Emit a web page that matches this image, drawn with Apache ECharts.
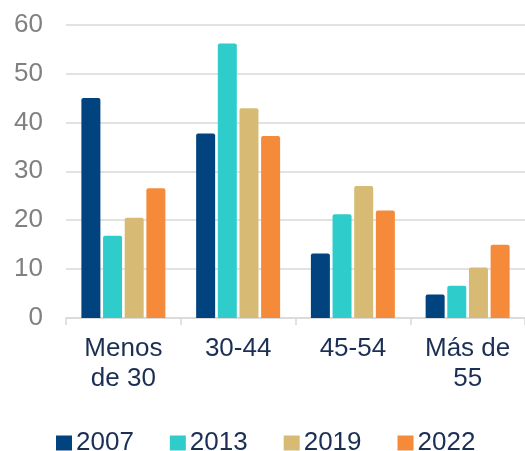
<!DOCTYPE html>
<html>
<head>
<meta charset="utf-8">
<script src="https://cdn.jsdelivr.net/npm/echarts@6/dist/echarts.min.js"></script>
<style>
html,body{margin:0;padding:0;background:#fff;}
#chart{width:525px;height:451px;}
</style>
</head>
<body>
<div id="chart"></div>
<script>
var categories = ['Menos\nde 30', '30-44', '45-54', 'Más de\n55'];
var seriesNames = ['2007', '2013', '2019', '2022'];
var values2007 = [45.0, 37.7, 13.2, 4.8];
var values2013 = [16.8, 56.1, 21.2, 6.6];
var values2019 = [20.5, 42.9, 27.0, 10.3];
var values2022 = [26.5, 37.2, 22.0, 15.0];
var colors = ['#00437F', '#2ECDCC', '#D7BB74', '#F58A3B'];

var allValues = [values2007, values2013, values2019, values2022];
var font = 'Liberation Sans, Arial, sans-serif';

var chart = echarts.init(document.getElementById('chart'));
chart.setOption({
  animation: false,
  color: colors,
  grid: { left: 66, right: -5, top: 24.5, bottom: 133, containLabel: false },
  legend: {
    left: 51,
    top: 425,
    itemWidth: 16,
    itemHeight: 15,
    itemGap: 36,
    icon: 'rect',
    textStyle: { fontFamily: font, fontSize: 26, lineHeight: 26, color: '#1B2F55', padding: [0, 0, 0, -1] },
    data: seriesNames
  },
  xAxis: {
    type: 'category',
    data: categories,
    axisLine: { show: true, lineStyle: { color: '#D9D9D9', width: 1.5 } },
    axisTick: { show: true, length: 7, lineStyle: { color: '#D9D9D9', width: 1.5 } },
    axisLabel: { fontFamily: font, fontSize: 26, color: '#1B2F55', lineHeight: 30, margin: 16, interval: 0 }
  },
  yAxis: {
    type: 'value',
    min: 0, max: 60, interval: 10,
    axisLine: { show: false },
    axisTick: { show: false },
    splitLine: { lineStyle: { color: '#D9D9D9', width: 1.5 } },
    axisLabel: { fontFamily: font, fontSize: 26, color: '#808080', margin: 23 }
  },
  series: seriesNames.map(function (n, i) {
    return {
      name: n,
      type: 'bar',
      data: allValues[i],
      barWidth: 19,
      barGap: '14%',
      itemStyle: { borderRadius: [2, 2, 0, 0] }
    };
  })
});
</script>
</body>
</html>
